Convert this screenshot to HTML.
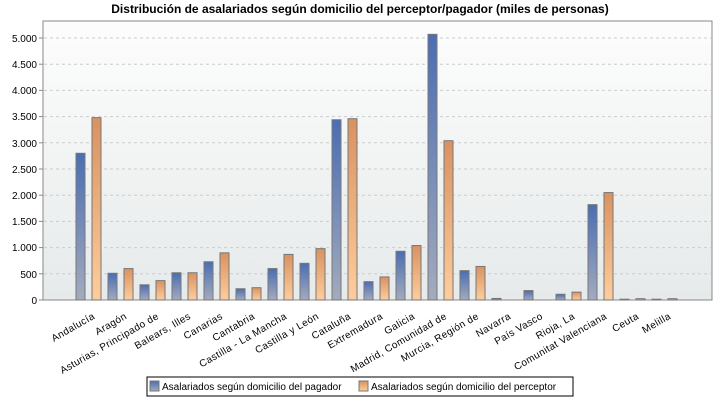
<!DOCTYPE html>
<html><head><meta charset="utf-8"><style>body{margin:0;background:#fff}svg{display:block}</style></head><body>
<svg width="720" height="400" xmlns="http://www.w3.org/2000/svg" font-family="Liberation Sans, sans-serif">
<defs>
<linearGradient id="bg" x1="0" y1="0" x2="0" y2="1"><stop offset="0" stop-color="#fdfdfd"/><stop offset="1" stop-color="#e6eaea"/></linearGradient>
<linearGradient id="gb" x1="0" y1="0" x2="0" y2="1"><stop offset="0" stop-color="#4a6db4"/><stop offset="1" stop-color="#a3abbd"/></linearGradient>
<linearGradient id="go" x1="0" y1="0" x2="0" y2="1"><stop offset="0" stop-color="#d99260"/><stop offset="1" stop-color="#fecd9c"/></linearGradient>
</defs>
<text x="360" y="13" text-anchor="middle" font-size="12" font-weight="bold">Distribución de asalariados según domicilio del perceptor/pagador (miles de personas)</text>
<rect x="43" y="21" width="669" height="279" fill="url(#bg)" stroke="#888"/>
<g stroke="#ccc" stroke-dasharray="3,3">
<line x1="44" x2="711" y1="38" y2="38"/><line x1="44" x2="711" y1="64.2" y2="64.2"/><line x1="44" x2="711" y1="90.4" y2="90.4"/><line x1="44" x2="711" y1="116.6" y2="116.6"/><line x1="44" x2="711" y1="142.8" y2="142.8"/><line x1="44" x2="711" y1="169" y2="169"/><line x1="44" x2="711" y1="195.2" y2="195.2"/><line x1="44" x2="711" y1="221.4" y2="221.4"/><line x1="44" x2="711" y1="247.6" y2="247.6"/><line x1="44" x2="711" y1="273.8" y2="273.8"/>
</g>
<g font-size="10" text-anchor="end">
<text x="37" y="42">5.000</text><text x="37" y="68">4.500</text><text x="37" y="94">4.000</text><text x="37" y="120">3.500</text><text x="37" y="147">3.000</text><text x="37" y="173">2.500</text><text x="37" y="199">2.000</text><text x="37" y="225">1.500</text><text x="37" y="251">1.000</text><text x="37" y="278">500</text><text x="37" y="304">0</text>
</g>
<g stroke="#888">
<line x1="39" x2="43" y1="38" y2="38"/><line x1="39" x2="43" y1="64.2" y2="64.2"/><line x1="39" x2="43" y1="90.4" y2="90.4"/><line x1="39" x2="43" y1="116.6" y2="116.6"/><line x1="39" x2="43" y1="142.8" y2="142.8"/><line x1="39" x2="43" y1="169" y2="169"/><line x1="39" x2="43" y1="195.2" y2="195.2"/><line x1="39" x2="43" y1="221.4" y2="221.4"/><line x1="39" x2="43" y1="247.6" y2="247.6"/><line x1="39" x2="43" y1="273.8" y2="273.8"/><line x1="39" x2="43" y1="300" y2="300"/>
</g>
<g id="bars" stroke="#777"></g>
<g id="labels" font-size="10" letter-spacing="0.4"></g>
<rect x="147" y="377" width="426" height="19" fill="#fff" stroke="#000"/>
<rect x="150" y="381" width="9" height="10" fill="url(#gb)" stroke="#777"/>
<text x="162" y="390" font-size="10">Asalariados según domicilio del pagador</text>
<rect x="359" y="381" width="9" height="10" fill="url(#go)" stroke="#777"/>
<text x="371" y="390" font-size="10">Asalariados según domicilio del perceptor</text>
<script>
var d=[["Andalucía",2800,3480],["Aragón",510,600],["Asturias, Principado de",290,370],["Balears, Illes",520,520],["Canarias",730,900],["Cantabria",215,235],["Castilla - La Mancha",600,870],["Castilla y León",700,980],["Cataluña",3440,3460],["Extremadura",350,440],["Galicia",930,1040],["Madrid, Comunidad de",5070,3040],["Murcia, Región de",560,640],["Navarra",30,0],["País Vasco",180,0],["Rioja, La",110,150],["Comunitat Valenciana",1820,2050],["Ceuta",15,25],["Melilla",15,25]];
var ns="http://www.w3.org/2000/svg",b=document.getElementById("bars"),l=document.getElementById("labels");
d.forEach(function(r,i){var c=88.5+32*i;
[[r[1],c-12.5,"url(#gb)"],[r[2],c+3.5,"url(#go)"]].forEach(function(v){if(!v[0])return;var h=v[0]*0.0524;var e=document.createElementNS(ns,"rect");e.setAttribute("x",v[1]);e.setAttribute("y",300-h);e.setAttribute("width",9);e.setAttribute("height",h);e.setAttribute("fill",v[2]);b.appendChild(e);});
var t=document.createElementNS(ns,"text");t.setAttribute("text-anchor","end");t.setAttribute("transform","translate("+(c+7)+",318) rotate(-30)");t.textContent=r[0];l.appendChild(t);});
</script>
</svg>
</body></html>
